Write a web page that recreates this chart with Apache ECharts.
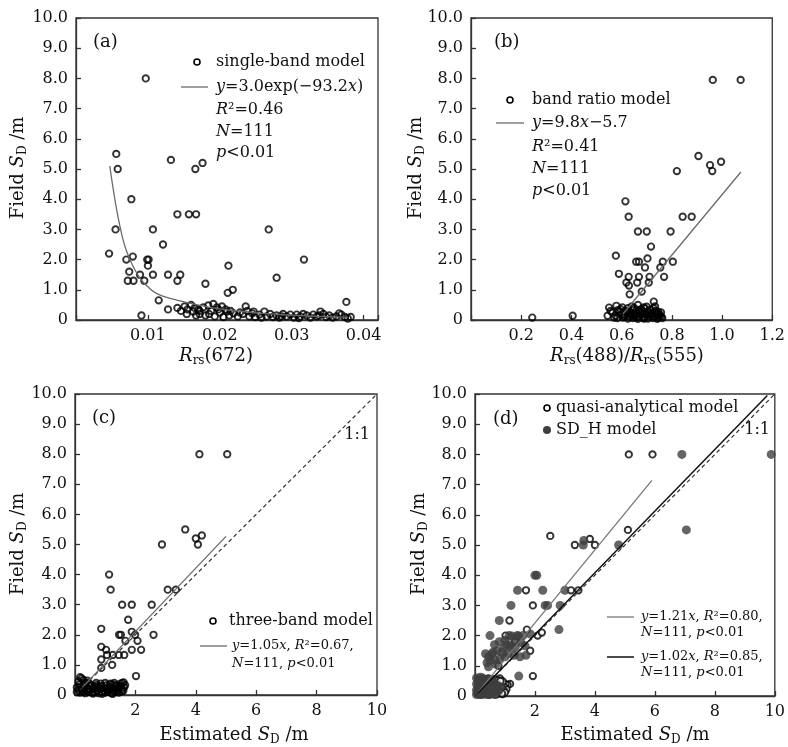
<!DOCTYPE html>
<html><head><meta charset="utf-8">
<script src="https://cdn.jsdelivr.net/npm/echarts@6/dist/echarts.min.js"></script>
<style>html,body{margin:0;padding:0;background:#fff}#c{width:788px;height:747px}</style>
</head><body><div id="c"></div>
<script>
// ---------- DATA ----------
const yTickLabels = ['0','1.0','2.0','3.0','4.0','5.0','6.0','7.0','8.0','9.0','10.0'];
const xTicksA = ['0.01','0.02','0.03','0.04'];
const xTicksB = ['0.2','0.4','0.6','0.8','1.0','1.2'];
const xTicksCD = ['2','4','6','8','10'];

// (a) single-band model: [Rrs(672), field SD]
const singleBandPts = [
 [0.0097,8.0],[0.0056,5.5],[0.0058,5.0],[0.0077,4.0],[0.0055,3.0],[0.0046,2.2],[0.0070,2.0],[0.0079,2.1],
 [0.0074,1.6],[0.0072,1.3],[0.0080,1.3],[0.0089,1.5],[0.0095,1.3],[0.0099,2.0],[0.0101,2.0],[0.0100,1.8],
 [0.0107,1.5],[0.0107,3.0],[0.0115,0.65],[0.0091,0.15],[0.0121,2.5],[0.0128,1.5],[0.0132,5.3],[0.0141,3.5],
 [0.0145,1.5],[0.0141,1.3],[0.0157,3.5],[0.0167,3.5],[0.0166,5.0],[0.0176,5.2],[0.0180,1.2],[0.0212,1.8],
 [0.0211,0.9],[0.0218,1.0],[0.0268,3.0],[0.0279,1.4],[0.0317,2.0],[0.0376,0.6],
 [0.0128,0.35],[0.0141,0.40],[0.0146,0.30],[0.0151,0.45],[0.0155,0.35],[0.0160,0.50],[0.0163,0.28],[0.0165,0.40],
 [0.0170,0.35],[0.0172,0.20],[0.0177,0.42],[0.0180,0.15],[0.0184,0.48],[0.0188,0.30],[0.0191,0.53],[0.0193,0.12],
 [0.0196,0.42],[0.0200,0.25],[0.0203,0.45],[0.0205,0.10],[0.0208,0.35],[0.0210,0.28],[0.0213,0.15],[0.0219,0.22],
 [0.0225,0.12],[0.0232,0.20],[0.0236,0.45],[0.0238,0.30],[0.0241,0.12],[0.0245,0.22],[0.0249,0.10],[0.0255,0.18],
 [0.0262,0.28],[0.0265,0.12],[0.0270,0.20],[0.0274,0.10],[0.0279,0.15],[0.0283,0.08],[0.0288,0.20],[0.0293,0.12],
 [0.0298,0.18],[0.0303,0.08],[0.0307,0.18],[0.0312,0.12],[0.0316,0.20],[0.0321,0.15],[0.0326,0.08],[0.0330,0.18],
 [0.0335,0.12],[0.0340,0.28],[0.0344,0.20],[0.0348,0.10],[0.0352,0.15],[0.0357,0.08],[0.0362,0.12],[0.0369,0.18],
 [0.0374,0.10],[0.0378,0.05],[0.0382,0.10],[0.0172,0.30],[0.0185,0.20],[0.0198,0.35],[0.0215,0.30],[0.0228,0.25],
 [0.0247,0.28],[0.0258,0.08],[0.0286,0.12],[0.0310,0.06],[0.0338,0.15],[0.0366,0.22],[0.0154,0.20],[0.0167,0.15]
];
// (a) fitted curve as drawn
const singleBandFit = [
 [0.0047,5.1],[0.0052,4.3],[0.0057,3.6],[0.0063,2.9],[0.0070,2.3],[0.0080,1.75],[0.0090,1.35],[0.0100,1.1],
 [0.0112,0.88],[0.0125,0.76],[0.0140,0.66],[0.0160,0.55],[0.0180,0.45],[0.0200,0.37],[0.0230,0.29],[0.0260,0.22],
 [0.0300,0.16],[0.0340,0.12],[0.0378,0.09]
];

// (b) band ratio model: [Rrs(488)/Rrs(555), field SD]
const bandRatioPts = [
 [0.963,7.95],[1.074,7.95],[0.906,5.43],[0.952,5.13],[0.961,4.93],[0.996,5.24],[0.820,4.93],[0.615,3.93],
 [0.628,3.42],[0.843,3.42],[0.879,3.42],[0.665,2.93],[0.700,2.93],[0.795,2.93],[0.717,2.43],[0.577,2.13],
 [0.658,1.93],[0.669,1.93],[0.703,2.04],[0.693,1.74],[0.764,1.93],[0.804,1.93],[0.754,1.74],[0.589,1.53],
 [0.628,1.43],[0.669,1.43],[0.711,1.43],[0.769,1.43],[0.619,1.24],[0.629,1.14],[0.662,1.24],[0.708,1.24],
 [0.632,0.85],[0.680,0.94],[0.728,0.61],[0.244,0.08],[0.405,0.14],
 [0.550,0.41],[0.579,0.47],[0.585,0.33],[0.544,0.14],[0.576,0.14],[0.599,0.19],[0.625,0.39],[0.645,0.33],
 [0.665,0.50],[0.669,0.33],[0.691,0.39],[0.705,0.28],[0.727,0.39],[0.744,0.28],[0.751,0.19],[0.612,0.11],
 [0.632,0.11],[0.652,0.11],[0.672,0.11],[0.691,0.11],[0.711,0.11],[0.731,0.11],[0.758,0.11],[0.620,0.25],
 [0.638,0.20],[0.655,0.25],[0.678,0.20],[0.698,0.16],[0.718,0.22],[0.738,0.17],[0.592,0.28],[0.605,0.08],
 [0.625,0.05],[0.645,0.06],[0.665,0.04],[0.685,0.06],[0.705,0.05],[0.725,0.06],[0.745,0.08],[0.715,0.35],
 [0.700,0.44],[0.660,0.22],[0.640,0.45],[0.563,0.25],[0.570,0.08],[0.596,0.36],[0.615,0.30],[0.635,0.16],
 [0.650,0.40],[0.683,0.30],[0.722,0.14],[0.735,0.30],[0.752,0.12],[0.762,0.06],[0.688,0.42],[0.660,0.08],
 [0.610,0.17],[0.672,0.26],[0.695,0.22],[0.712,0.18],[0.740,0.22],[0.628,0.28],[0.655,0.15],[0.742,0.04],
 [0.556,0.30],[0.583,0.06],[0.603,0.42],[0.677,0.36],[0.733,0.45],[0.757,0.25],[0.690,0.05],[0.648,0.18]
];
const bandRatioFit = [[0.605,0.2],[1.075,4.9]];

// (c) three-band model: [estimated SD, field SD]
const threeBandPts = [
 [4.12,8.0],[5.04,8.0],[3.65,5.5],[4.0,5.2],[4.2,5.3],[4.07,5.0],[2.88,5.0],[1.13,4.0],[1.18,3.5],[3.07,3.5],
 [3.34,3.5],[1.56,3.0],[1.88,3.0],[2.54,3.0],[1.76,2.5],[0.87,2.2],[1.46,2.0],[1.52,2.0],[1.88,2.1],[1.99,2.0],
 [2.6,2.0],[1.67,1.8],[2.07,1.8],[0.87,1.6],[1.03,1.5],[1.88,1.5],[2.19,1.5],[1.06,1.33],[1.25,1.33],[1.45,1.33],
 [1.63,1.33],[0.87,1.18],[1.23,1.0],[0.87,0.9],[2.02,0.63],
 [0.17,0.59],[0.22,0.55],[0.28,0.50],[0.41,0.48],[0.12,0.45],[0.34,0.40],[0.56,0.33],[0.72,0.33],[0.89,0.30],
 [1.05,0.33],[1.17,0.38],[1.21,0.35],[1.33,0.33],[1.38,0.30],[1.50,0.38],[1.57,0.40],[1.61,0.42],[1.66,0.33],
 [0.06,0.25],[0.18,0.28],[0.28,0.22],[0.41,0.20],[0.50,0.18],[0.61,0.22],[0.72,0.15],[0.83,0.20],[0.94,0.22],
 [1.05,0.18],[1.17,0.25],[1.25,0.20],[1.38,0.22],[1.45,0.26],[1.56,0.20],[1.63,0.26],[0.06,0.10],[0.17,0.08],
 [0.28,0.11],[0.34,0.06],[0.45,0.10],[0.56,0.08],[0.67,0.11],[0.78,0.06],[0.89,0.10],[1.00,0.08],[1.10,0.11],
 [1.21,0.06],[1.33,0.11],[1.45,0.08],[1.55,0.12],[0.12,0.17],[0.23,0.14],[0.39,0.15],[0.65,0.28],[0.78,0.27],
 [0.95,0.14],[1.12,0.16],[1.28,0.14],[1.42,0.15],[1.60,0.14],[0.30,0.33],[0.48,0.30],[0.85,0.38],[1.00,0.40],
 [1.10,0.28],[1.30,0.40],[0.60,0.05],[0.90,0.04],[1.25,0.04],[0.15,0.35],[0.45,0.40],[0.70,0.40],[1.50,0.30]
];
const threeBandFit = [[0.25,0.26],[5.0,5.27]];
const oneToOne = [[0,0],[10,10]];

// (d) quasi-analytical model (open) and SD_H model (filled)
const quasiPts = [
 [5.13,8.0],[5.92,8.0],[5.10,5.5],[2.51,5.3],[3.33,5.0],[3.83,5.2],[4.0,5.0],[1.70,3.5],[3.2,3.5],[3.45,3.5],
 [1.93,3.0],[1.15,2.5],[1.73,2.2],[2.09,2.0],[2.23,2.1],[1.02,2.0],[1.38,1.8],[1.84,1.5],[0.78,1.0],[1.93,0.66],
 [1.17,0.4],[1.09,0.37],[0.95,0.42],[1.33,1.8],[0.62,0.35],[0.70,0.30],[0.78,0.38],[0.85,0.42],[0.90,0.35],
 [1.02,0.38],[0.72,0.20],[0.80,0.25],[0.88,0.15],[0.98,0.30],[1.05,0.22],[0.60,0.10],[0.75,0.08],[0.92,0.06],
 [0.55,0.50],[0.68,0.55],[0.83,0.58],[0.40,0.30],[0.30,0.20],[0.20,0.35],[0.10,0.15],[0.15,0.50],[0.25,0.10],
 [0.35,0.45],[0.45,0.15],[0.50,0.25],[0.58,0.42],[0.65,0.15],[0.48,0.05],[0.38,0.55],[0.28,0.40],[0.18,0.05],
 [0.12,0.30],[0.52,0.38],[0.62,0.50],[0.72,0.45],[0.82,0.10],[0.95,0.20],[1.00,0.12],[0.42,0.45],[0.32,0.08],
 [0.22,0.22],[0.55,0.12],[0.67,0.25],[0.77,0.52],[0.87,0.28],[0.93,0.48],[0.35,0.30],[0.25,0.55],[0.15,0.20],
 [0.45,0.58],[0.58,0.20],[0.70,0.05],[0.80,0.18],[0.90,0.08],[0.40,0.10],[0.30,0.50],[0.20,0.45],[0.50,0.45],
 [0.60,0.28],[0.75,0.32],[0.85,0.50],[0.65,0.40],[0.50,0.12]
];
const sdhPts = [
 [6.9,8.0],[9.88,8.0],[7.05,5.5],[4.79,5.0],[3.63,5.15],[3.61,5.0],[2.0,4.0],[2.06,4.0],[1.42,3.5],[2.26,3.5],
 [3.0,3.5],[1.2,3.0],[2.34,3.0],[2.42,3.0],[2.84,3.0],[0.81,2.5],[2.8,2.2],[0.5,2.0],[1.41,2.0],[1.14,2.0],
 [1.46,0.66],[0.45,0.97],
 [0.81,1.8],[1.0,1.85],[1.23,1.99],[1.45,1.99],[1.17,1.69],[1.34,1.61],[1.67,1.66],[1.53,1.77],[0.95,1.58],
 [0.73,1.5],[0.56,1.39],[0.45,1.3],[0.5,1.19],[0.67,1.19],[0.84,1.25],[1.0,1.3],[1.2,1.61],[0.6,1.45],[0.9,1.45],
 [1.1,1.4],[1.3,1.35],[1.5,1.3],[1.7,1.35],[0.4,1.1],[0.7,1.05],[1.85,2.05],[1.6,2.0],[0.65,1.7],[1.05,1.7],
 [0.35,1.4],[1.35,1.85],
 [0.05,0.6],[0.15,0.55],[0.25,0.6],[0.35,0.5],[0.45,0.55],[0.55,0.45],[0.65,0.4],[0.75,0.35],[0.85,0.3],
 [0.05,0.4],[0.15,0.35],[0.25,0.4],[0.35,0.3],[0.45,0.35],[0.55,0.25],[0.65,0.2],[0.75,0.15],[0.05,0.2],
 [0.15,0.15],[0.25,0.2],[0.35,0.1],[0.45,0.15],[0.55,0.1],[0.65,0.05],[0.05,0.05],[0.15,0.05],[0.25,0.05],
 [0.1,0.3],[0.2,0.45],[0.3,0.25],[0.4,0.45],[0.5,0.3],[0.6,0.35],[0.7,0.25],[0.8,0.2],[0.1,0.5],[0.3,0.55],
 [0.5,0.5],[0.2,0.1],[0.4,0.05],[0.6,0.15],[0.12,0.25],[0.38,0.2],[0.58,0.55],[0.3,0.4],[0.42,0.25],[0.22,0.3],
 [0.08,0.12],[0.68,0.3],[0.18,0.62],[0.48,0.05]
];
const quasiFit = [[0.1,0.12],[5.9,7.14]];
const sdhFit = [[0.1,0.1],[9.75,9.95]];

// ---------- CHART ----------
const FONT = '"DejaVu Serif", serif';
const INK = '#111';
const grids = [
  {left:76, top:18, width:302, height:302},
  {left:471, top:18, width:302, height:302},
  {left:75, top:394, width:302, height:301},
  {left:475, top:394, width:302, height:302}
];
const axisLine = {show:true, lineStyle:{color:'#333', width:1.3}};
const axisTick = {show:true, inside:true, length:5, lineStyle:{color:'#333', width:1.3}};
function labelFrom(list){
  return v => { const s = list.find(t => Math.abs(parseFloat(t) - v) < 1e-9); return s === undefined ? '' : s; };
}
function yAx(g){
  return {type:'value', gridIndex:g, min:0, max:10, interval:1, axisLine, axisTick, splitLine:{show:false},
    axisLabel:{fontFamily:FONT, fontSize:16, color:INK, margin:8, formatter:labelFrom(yTickLabels)}};
}
function xAx(g, max, interval, list){
  return {type:'value', gridIndex:g, min:0, max, interval, axisLine, axisTick, splitLine:{show:false},
    axisLabel:{fontFamily:FONT, fontSize:16, color:INK, margin:8, showMinLabel:true, showMaxLabel:true, formatter:labelFrom(list)}};
}
function hollow(i, data, fill){
  return {type:'scatter', xAxisIndex:i, yAxisIndex:i, data, symbol:'circle', symbolSize:6.4,
    itemStyle:{color:fill || 'rgba(0,0,0,0)', borderColor:'#000', borderWidth:1.9}, emphasis:{disabled:true}, z:3};
}
function fitLine(i, data, color, width, dash, smooth){
  return {type:'line', xAxisIndex:i, yAxisIndex:i, data, showSymbol:false, smooth:!!smooth, silent:true,
    lineStyle:{color, width, type: dash ? [4,3] : 'solid'}, z:4};
}
const series = [
  hollow(0, singleBandPts),
  fitLine(0, singleBandFit, '#6a6a6a', 1.3, false, 0.4),
  hollow(1, bandRatioPts),
  fitLine(1, bandRatioFit, '#6a6a6a', 1.3),
  hollow(2, threeBandPts),
  fitLine(2, oneToOne, '#333', 1.2, true),
  fitLine(2, threeBandFit, '#6a6a6a', 1.3),
  hollow(3, quasiPts, '#fff'),
  {type:'scatter', xAxisIndex:3, yAxisIndex:3, data:sdhPts, symbol:'circle', symbolSize:9,
    itemStyle:{color:'#3e3e3e'}, emphasis:{disabled:true}, z:3},
  fitLine(3, oneToOne, '#333', 1.2, true),
  fitLine(3, quasiFit, '#777', 1.3),
  fitLine(3, sdhFit, '#111', 1.5)
];

// ---------- TEXT / DECORATIONS ----------
function rich(size){
  return {
    i:{fontStyle:'italic', fontSize:size, fontFamily:FONT, fill:INK},
    sub:{fontSize:Math.round(size*0.66), fontFamily:FONT, fill:INK, padding:[Math.round(size*0.55),0,0,0]}
  };
}
function T(x, y, text, size, align, rot){
  const el = {type:'text', x, y, silent:true, z:10,
    style:{text, fontSize:size, fontFamily:FONT, fill:INK, align:align || 'left', verticalAlign:'middle', rich:rich(size)}};
  if (rot) el.rotation = rot;
  return el;
}
function circ(cx, cy, r, filled){
  return {type:'circle', shape:{cx, cy, r}, silent:true, z:10,
    style: filled ? {fill:'#3e3e3e'} : {fill:'none', stroke:'#000', lineWidth:1.6}};
}
function seg(x1, x2, y, color, w){
  return {type:'line', shape:{x1, y1:y, x2, y2:y}, silent:true, z:10, style:{stroke:color, lineWidth:w}};
}
const yTitle = 'Field {i|S}{sub|D} /m';
const graphic = [
  // axis titles
  T(18, 168, yTitle, 18, 'center', Math.PI/2),
  T(416, 168, yTitle, 18, 'center', Math.PI/2),
  T(18, 544, yTitle, 18, 'center', Math.PI/2),
  T(419, 544, yTitle, 18, 'center', Math.PI/2),
  T(216, 356, '{i|R}{sub|rs}(672)', 18, 'center'),
  T(627, 356, '{i|R}{sub|rs}(488)/{i|R}{sub|rs}(555)', 18, 'center'),
  T(234, 735, 'Estimated {i|S}{sub|D} /m', 18, 'center'),
  T(635, 735, 'Estimated {i|S}{sub|D} /m', 18, 'center'),
  // panel labels
  T(93, 42, '(a)', 18), T(494, 42, '(b)', 18), T(92, 418, '(c)', 18), T(493, 419, '(d)', 18),
  // (a) legend
  circ(197, 62, 3), T(216, 62, 'single-band model', 16),
  seg(181, 208, 87, '#6a6a6a', 1.3), T(216, 87, '{i|y}=3.0exp(−93.2{i|x})', 16),
  T(216, 110, '{i|R}²=0.46', 16), T(216, 132, '{i|N}=111', 16), T(216, 153, '{i|p}<0.01', 16),
  // (b) legend
  circ(510, 100, 3), T(532, 100, 'band ratio model', 16),
  seg(496, 524, 123, '#6a6a6a', 1.3), T(532, 123, '{i|y}=9.8{i|x}−5.7', 16),
  T(532, 147, '{i|R}²=0.41', 16), T(532, 169, '{i|N}=111', 16), T(532, 191, '{i|p}<0.01', 16),
  // (c) legend
  circ(213, 621, 3), T(229, 621, 'three-band model', 16),
  seg(200, 227, 646, '#6a6a6a', 1.3), T(232, 646, '{i|y}=1.05{i|x}, {i|R}²=0.67,', 13),
  T(232, 664, '{i|N}=111, {i|p}<0.01', 13),
  T(370, 435, '1:1', 16, 'right'),
  // (d) legend
  circ(547, 408, 3), T(556, 408, 'quasi-analytical model', 16),
  circ(547, 430, 4, true), T(556, 430, 'SD_H model', 16),
  T(770, 430, '1:1', 16, 'right'),
  seg(607, 634, 617, '#777', 1.3), T(641, 617, '{i|y}=1.21{i|x}, {i|R}²=0.80,', 13),
  T(641, 633, '{i|N}=111, {i|p}<0.01', 13),
  seg(607, 634, 657, '#111', 1.5), T(641, 657, '{i|y}=1.02{i|x}, {i|R}²=0.85,', 13),
  T(641, 673, '{i|N}=111, {i|p}<0.01', 13)
];

const chart = echarts.init(document.getElementById('c'), null, {renderer:'canvas'});
chart.setOption({
  animation:false,
  backgroundColor:'#fff',
  grid: grids.map(g => Object.assign({show:true, borderColor:'#333', borderWidth:1.3, backgroundColor:'transparent'}, g)),
  xAxis:[xAx(0, 0.042, 0.01, xTicksA), xAx(1, 1.2, 0.2, xTicksB), xAx(2, 10, 2, xTicksCD), xAx(3, 10, 2, xTicksCD)],
  yAxis:[yAx(0), yAx(1), yAx(2), yAx(3)],
  series,
  graphic
});
</script></body></html>
